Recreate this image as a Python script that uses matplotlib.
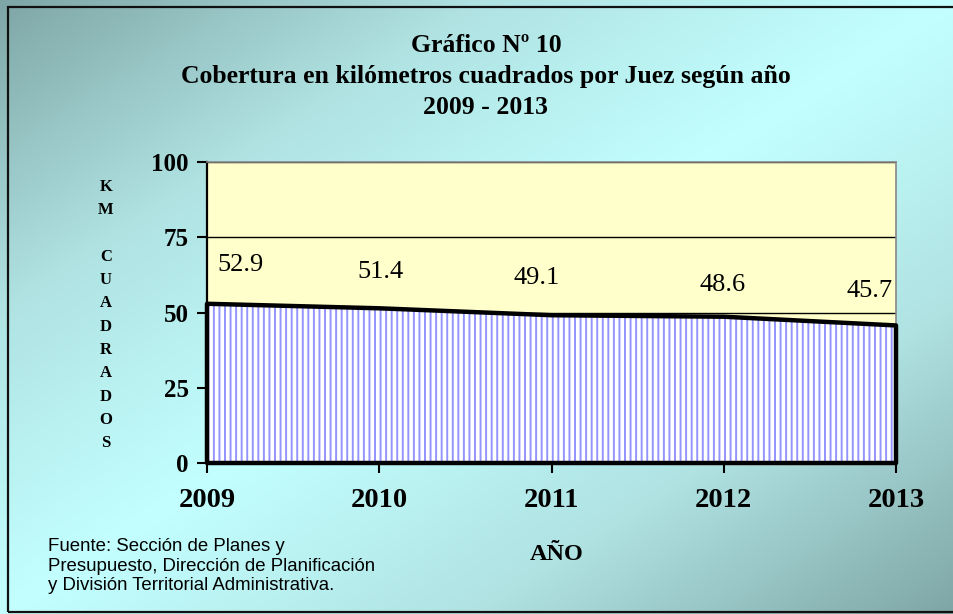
import numpy as np
import matplotlib
matplotlib.use("Agg")
import matplotlib.pyplot as plt
from matplotlib.colors import LinearSegmentedColormap
from matplotlib.patches import Rectangle

# data
years = [2009, 2010, 2011, 2012, 2013]
km2 = [52.9, 51.4, 49.1, 48.6, 45.7]
yticks = [0, 25, 50, 75, 100]
title_lines = ["Gráfico Nº 10",
               "Cobertura en kilómetros cuadrados por Juez según año",
               "2009 - 2013"]
ylabel = "KM CUADRADOS"
xlabel = "AÑO"
source = ("Fuente: Sección de Planes y\n"
          "Presupuesto, Dirección de Planificación\n"
          "y División Territorial Administrativa.")

# label nudges (points) so the end labels stay inside the plot
label_dx = [24, 1, -11, -1, -19]
label_dy = [28, 26, 27, 23, 25]

plt.rcParams['font.family'] = ['Liberation Serif', 'DejaVu Serif']
plt.rcParams['hatch.linewidth'] = 1.4

fig = plt.figure(figsize=(9.54, 6.14), dpi=100)

# diagonal gradient background, light along the anti-diagonal
bg = fig.add_axes([0, 0, 1, 1], zorder=-10)
u, v = np.meshgrid(np.linspace(0, 1, 480), np.linspace(0, 1, 310))
t = np.abs((u + v) / 2 - 0.5) * 2
cmap = LinearSegmentedColormap.from_list('bgc', ['#c3ffff', '#b0e2e2', '#7fa6a6'])
bg.imshow(t, cmap=cmap, aspect='auto', extent=[0, 1, 0, 1], origin='upper')
bg.set_xlim(0, 1)
bg.set_ylim(0, 1)
bg.set_axis_off()
bg.add_patch(Rectangle((8 / 954, 2 / 614), 1.2, 605 / 614, transform=bg.transAxes,
                       fill=False, edgecolor='#111111', linewidth=1.6, clip_on=False))

ax = fig.add_axes([207 / 954, 151 / 614, 689 / 954, 301 / 614])
ax.set_facecolor('#ffffcc')
ax.set_xlim(2009, 2013)
ax.set_ylim(0, 100)

ax.set_yticks(yticks)
ax.yaxis.grid(True, color='black', linewidth=1.0)
ax.set_axisbelow(True)

ax.fill_between(years, km2, facecolor='white', edgecolor='#9494ff',
                hatch='|||', linewidth=0, zorder=2)
ax.fill_between(years, km2, facecolor='none', edgecolor='black',
                linewidth=3.2, zorder=3, clip_on=False)

for i, (x, val) in enumerate(zip(years, km2)):
    ax.annotate(f"{val:.1f}", (x, val), xytext=(label_dx[i], label_dy[i]),
                textcoords='offset points', ha='center', va='center',
                fontsize=19, color='black')

for side in ['left', 'bottom']:
    ax.spines[side].set_color('black')
    ax.spines[side].set_linewidth(1.6)
for side in ['top', 'right']:
    ax.spines[side].set_color('#888888')
    ax.spines[side].set_linewidth(1.2)

ax.set_xticks(years)
ax.set_xticklabels([str(y) for y in years], fontsize=20.5, fontweight='bold')
ax.set_yticklabels([str(y) for y in yticks], fontsize=18, fontweight='bold')
ax.tick_params(axis='both', direction='out', length=7, width=1.5, color='black')
ax.tick_params(axis='x', pad=11)
ax.tick_params(axis='y', pad=6)

# titles
title_y = [45, 77, 107]
for line, yy in zip(title_lines, title_y):
    fig.text(486 / 954, 1 - yy / 614, line, ha='center', va='center',
             fontsize=18.5, fontweight='bold')

# stacked vertical letters, blank line between the two words
stacked = "\n".join(ch if ch != " " else "" for ch in ylabel)
fig.text(106 / 954, 1 - 315 / 614, stacked, ha='center', va='center',
         fontsize=12, fontweight='bold', linespacing=1.61)

fig.text(557 / 954, 1 - 555 / 614, xlabel, ha='center', va='center',
         fontsize=17.5, fontweight='bold')

fig.text(48 / 954, 1 - 538 / 614, source, ha='left', va='top',
         fontsize=13.4, family=['Liberation Sans', 'DejaVu Sans'], linespacing=1.2)

fig.savefig("out.png", dpi=100)
